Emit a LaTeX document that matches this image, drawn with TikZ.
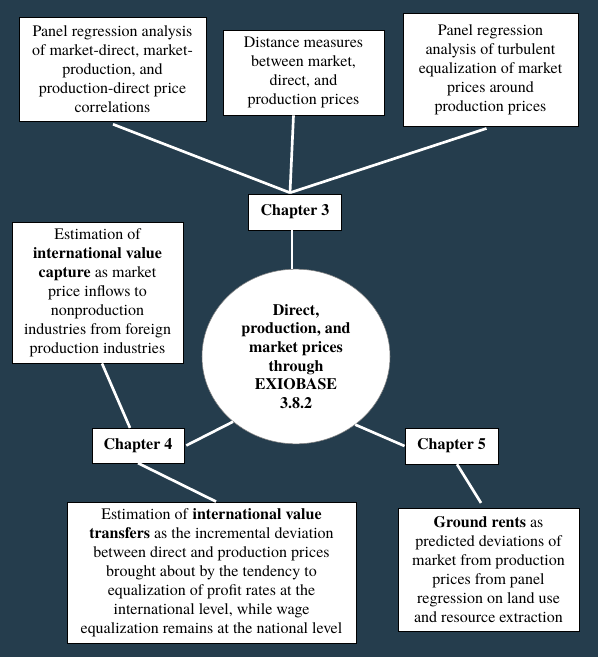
\documentclass[tikz,border=0pt]{standalone}
\usepackage{fontspec}
\setmainfont{texgyretermes}[Extension=.otf,UprightFont=*-regular,BoldFont=*-bold,ItalicFont=*-italic,BoldItalicFont=*-bolditalic]
\usetikzlibrary{shapes.geometric,calc}
\definecolor{bgslate}{RGB}{37,61,77}

\begin{document}
\begin{tikzpicture}
		[x=0.75pt,y=-0.75pt,
		box/.style={rectangle,draw=black,fill=white,align=center,inner sep=2pt,font=\fontsize{12}{14.25}\selectfont},
		chap/.style={rectangle,draw=black,fill=white,inner sep=2pt,minimum width=70pt,minimum height=27pt,font=\fontsize{12}{14.25}\selectfont\bfseries},
		hub/.style={ellipse,draw=gray,fill=white,align=center,inner sep=0pt,minimum width=141pt,minimum height=131pt,font=\fontsize{12}{14}\selectfont\bfseries},
		link/.style={draw=white,line width=2pt}]
		\fill[bgslate] (0,0) rectangle (598,657);

		\node[box,minimum width=140pt,minimum height=78pt] (corr) at (112.5,69) {Panel regression analysis\\of market-direct, market-\\production, and\\production-direct price\\correlations};
		\node[box,minimum width=121pt,minimum height=64pt] (dist) at (303.5,72.5) {Distance measures\\between market,\\direct, and\\production prices};
		\node[box,minimum width=131pt,minimum height=85pt] (turb) at (490.5,69.5) {Panel regression\\analysis of turbulent\\equalization of market\\prices around\\production prices};
		\node[chap] (ch3) at (295,212) {Chapter 3};

		\node[box,minimum width=128pt,minimum height=106pt] (capt) at (97.5,292.5) {Estimation of\\\textbf{international value}\\\textbf{capture} as market\\price inflows to\\nonproduction\\industries from foreign\\production industries};
		\node[hub] (hub) at (296,356.5) {Direct,\\production, and\\market prices\\through\\EXIOBASE\\3.8.2};
		\node[chap,minimum width=69pt,minimum height=26pt] (ch4) at (138,445.5) {Chapter 4};
		\node[chap] (ch5) at (451.5,446) {Chapter 5};

		\node[box,minimum width=217pt,minimum height=106pt] (trans) at (211.5,572.5) {Estimation of \textbf{international value}\\\textbf{transfers} as the incremental deviation\\between direct and production prices\\brought about by the tendency to\\equalization of profit rates at the\\international level, while wage\\equalization remains at the national level};
		\node[box,minimum width=136pt,minimum height=92pt] (rent) at (488.5,569.5) {\textbf{Ground rents} as\\predicted deviations of\\market from production\\prices from panel\\regression on land use\\and resource extraction};

		\coordinate (meet) at ($(ch3.north)+(-5,-1)$);
		\draw[link] ($(corr.south)+(0.5,3)$) -- (meet);
		\draw[link] ($(dist.south)+(-10,0)$) -- (meet);
		\draw[link] ($(turb.south)+(-4,2)$) -- (meet);
		\draw[link] ($(ch3.south)+(-3,0)$) -- ($(hub.north)+(-4,0)$);

		\draw[link] ($(capt.south)+(4.5,0)$) -- ($(ch4.north)+(-8,0)$);
		\draw[link] ($(ch4.east)+(2,0)$) -- (hub.226);
		\draw[link] (ch4.south) -- ($(trans.north)+(4.5,0)$);
		\draw[link] (hub.311) -- (ch5.west);
		\draw[link] ($(ch5.south)+(5.5,0)$) -- ($(rent.north)+(-7.5,-5)$);

	\end{tikzpicture}
\end{document}
